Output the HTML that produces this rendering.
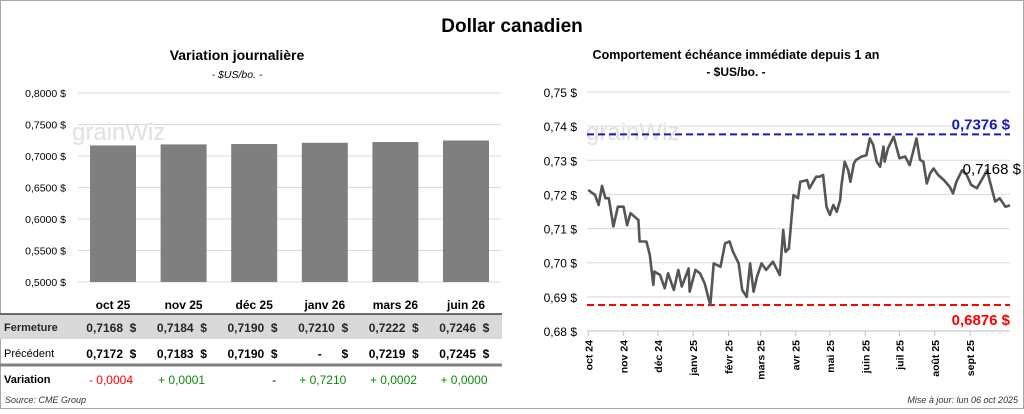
<!DOCTYPE html>
<html><head><meta charset="utf-8">
<style>
html,body{margin:0;padding:0;background:#fff;}
body{width:1024px;height:409px;overflow:hidden;font-family:"Liberation Sans",sans-serif;}
svg text{font-family:"Liberation Sans",sans-serif;}
</style></head>
<body>
<svg id="root" width="1024" height="409" viewBox="0 0 1024 409" xmlns="http://www.w3.org/2000/svg">
  <rect x="0.5" y="0.5" width="1023" height="408" fill="#fff" stroke="#a6a6a6"/>
  <text x="512" y="32" text-anchor="middle" font-size="19" font-weight="bold" fill="#000">Dollar canadien</text>
  <text x="237" y="60" text-anchor="middle" font-size="14" font-weight="bold">Variation  journalière</text>
  <text x="237" y="78" text-anchor="middle" font-size="10.5" font-style="italic">- $US/bo. -</text>
  <text x="736" y="59" text-anchor="middle" font-size="12.5" font-weight="bold">Comportement échéance immédiate depuis 1 an</text>
  <text x="736" y="76" text-anchor="middle" font-size="12" font-weight="bold">- $US/bo. -</text>
  <g id="bars"></g>
  <g id="line"></g>
  <g id="table"></g>
  <text x="5" y="403" font-size="9" font-style="italic" fill="#333">Source: CME Group</text>
  <text x="1018" y="403" text-anchor="end" font-size="9" font-style="italic" fill="#333">Mise à jour: lun 06 oct 2025</text>
</svg>
<script>
const NS="http://www.w3.org/2000/svg";
const barCategories=["oct 25","nov 25","déc 25","janv 26","mars 26","juin 26"];
const barValues=[0.7168,0.7184,0.7190,0.7210,0.7222,0.7246];
const barTicks=[0.50,0.55,0.60,0.65,0.70,0.75,0.80];
const barTickLabels=["0,5000 $","0,5500 $","0,6000 $","0,6500 $","0,7000 $","0,7500 $","0,8000 $"];
const closeLabels=["0,7168","0,7184","0,7190","0,7210","0,7222","0,7246"];
const prevLabels=["0,7172","0,7183","0,7190","-","0,7219","0,7245"];
const varLabels=["- 0,0004","+ 0,0001","-","+ 0,7210","+ 0,0002","+ 0,0000"];
const varSigns=[-1,1,0,1,1,1];

const lineTicks=[0.68,0.69,0.70,0.71,0.72,0.73,0.74,0.75];
const lineTickLabels=["0,68 $","0,69 $","0,70 $","0,71 $","0,72 $","0,73 $","0,74 $","0,75 $"];
const monthLabels=["oct 24","nov 24","déc 24","janv 25","févr 25","mars 25","avr 25","mai 25","juin 25","juil 25","août 25","sept 25"];
const monthDays=[0,31,61,92,123,151,182,212,243,273,304,335];
const seriesDays=[0,6,9,12,15,18,22,26,31,34,37,44,45,51,54,57,58,63,67,70,75,79,82,88,89,94,98,102,107,110,116,120,124,127,132,135,139,142,145,148,152,156,162,168,171,173,176,180,184,186,192,194,200,203,206,209,212,215,218,221,222,225,228,230,233,235,240,244,247,250,253,256,259,260,263,268,273,278,282,288,291,294,297,300,303,307,312,317,320,323,328,332,336,341,345,350,352,357,361,366,370];
const seriesValues=[0.7213,0.7198,0.7169,0.7225,0.7189,0.7189,0.7106,0.7164,0.7164,0.7110,0.7145,0.7125,0.7062,0.7062,0.7023,0.6935,0.6974,0.6964,0.6925,0.6969,0.6920,0.6979,0.6930,0.6983,0.6915,0.6979,0.6969,0.6940,0.6876,0.6998,0.6988,0.7057,0.7062,0.7032,0.6998,0.6920,0.6900,0.6998,0.6915,0.6959,0.6998,0.6979,0.7003,0.6964,0.7096,0.7032,0.7042,0.7198,0.7189,0.7237,0.7242,0.7218,0.7252,0.7252,0.7257,0.7164,0.7140,0.7169,0.7149,0.7184,0.7223,0.7296,0.7271,0.7237,0.7291,0.7301,0.7311,0.7315,0.7364,0.7345,0.7296,0.7281,0.7340,0.7296,0.7335,0.7369,0.7306,0.7311,0.7286,0.7364,0.7301,0.7296,0.7232,0.7262,0.7276,0.7257,0.7242,0.7223,0.7203,0.7237,0.7271,0.7257,0.7228,0.7218,0.7242,0.7271,0.7242,0.7179,0.7189,0.7164,0.7168];
const maxValue=[0.7376];const minValue=[0.6876];const lastLabel=["0,7168 $"];

function mk(tag,attrs,parent,txt){const e=document.createElementNS(NS,tag);for(const k in attrs)e.setAttribute(k,attrs[k]);if(txt!==undefined)e.textContent=txt;parent.appendChild(e);return e;}

const bg=document.getElementById('bars');
const by=v=>282-(v-0.5)*(189/0.3);
const bx=i=>113+i*70.6;
barTicks.forEach((t,i)=>{
  const g=mk('line',{x1:78,x2:501,y1:by(t),y2:by(t),stroke:'#d9d9d9','stroke-width':1},bg);
  
  const l=mk('text',{x:66,y:by(t)+4,'text-anchor':'end','font-size':10.5},bg,barTickLabels[i]);
  
});
const wm=mk('text',{x:72,y:140,'font-size':24,fill:'#e0e0e0'},bg,'grainWiz');

barValues.forEach((v,i)=>{
  const r=mk('rect',{x:bx(i)-23,y:by(v),width:46,height:by(0.5)-by(v),fill:'#7f7f7f'},bg);
  
  
});

const tg=document.getElementById('table');
const rr=mk('rect',{x:0,y:314,width:502,height:25,fill:'#d9d9d9'},tg);

const l1=mk('line',{x1:0,x2:502,y1:314,y2:314,stroke:'#404040','stroke-width':1.5},tg);

const l2=mk('line',{x1:0,x2:502,y1:365,y2:365,stroke:'#808080','stroke-width':3},tg);

[['Fermeture',331,true,11],['Précédent',357,false,11],['Variation',383,true,11]].forEach(a=>{
  const t=mk('text',{x:4,y:a[1],'font-size':a[3],'font-weight':a[2]?'bold':'normal',fill:a[0]==='Fermeture'?'#262626':'#000'},tg,a[0]);
  
});
barCategories.forEach((c,i)=>{
  const cx=bx(i);
  const h=mk('text',{x:cx,y:309,'text-anchor':'middle','font-size':12,'font-weight':'bold'},tg,c);
  
  const d1=mk('text',{x:cx+10,y:332,'text-anchor':'end','font-size':12,'font-weight':'bold',fill:'#262626'},tg,closeLabels[i]);
  
  const s1=mk('text',{x:cx+20,y:332,'text-anchor':'middle','font-size':12,'font-weight':'bold',fill:'#262626'},tg,'$');
  
  const d2=mk('text',{x:prevLabels[i]==='-'?cx-3:cx+10,y:358,'text-anchor':'end','font-size':12,'font-weight':'bold'},tg,prevLabels[i]);
  
  const s2=mk('text',{x:cx+20,y:358,'text-anchor':'middle','font-size':12,'font-weight':'bold'},tg,'$');
  
  const col=varSigns[i]<0?'#ff0000':(varSigns[i]>0?'#0a8a0a':'#000');
  const d3=mk('text',{x:varSigns[i]===0?cx+22:cx-2,y:384,'text-anchor':varSigns[i]===0?'end':'middle','font-size':12,fill:col},tg,varLabels[i]);
  
});

const lg=document.getElementById('line');
const ly=v=>92+(0.75-v)*(239/0.07);
const lx=d=>588.3+d*(421.7/370);
lineTicks.forEach((t,i)=>{
  const g=mk('line',{x1:587,x2:1010,y1:ly(t),y2:ly(t),stroke:'#d9d9d9','stroke-width':1},lg);
  
  const l=mk('text',{x:577,y:ly(t)+5,'text-anchor':'end','font-size':12},lg,lineTickLabels[i]);
  
});
const ax=mk('line',{x1:587,x2:1010,y1:331,y2:331,stroke:'#bfbfbf'},lg);

monthDays.forEach((d,i)=>{
  const x=lx(d);
  const tk=mk('line',{x1:x,x2:x,y1:331,y2:336,stroke:'#bfbfbf'},lg);
  
  const t=mk('text',{x:0,y:0,'text-anchor':'end','font-size':10.5,'font-weight':'bold',transform:`translate(${x+4},340) rotate(-90)`},lg,monthLabels[i]);
  
});
const wm2=mk('text',{x:586,y:140,'font-size':24,fill:'#e0e0e0'},lg,'grainWiz');

const mx=mk('line',{x1:587,x2:1010,y1:ly(maxValue[0]),y2:ly(maxValue[0]),stroke:'#1a1ab8','stroke-width':2,'stroke-dasharray':'7,4'},lg);

const mn=mk('line',{x1:587,x2:1010,y1:ly(minValue[0]),y2:ly(minValue[0]),stroke:'#ff0000','stroke-width':2,'stroke-dasharray':'7,4'},lg);

const mxl=mk('text',{x:1010,y:ly(maxValue[0])-5,'text-anchor':'end','font-size':15,'font-weight':'bold',fill:'#1a1ab8'},lg,maxValue[0].toFixed(4).replace('.',',')+' $');

const mnl=mk('text',{x:1010,y:ly(minValue[0])+20,'text-anchor':'end','font-size':15,'font-weight':'bold',fill:'#ff0000'},lg,minValue[0].toFixed(4).replace('.',',')+' $');

let dstr='';
seriesValues.forEach((v,i)=>{dstr+=(i?'L':'M')+lx(seriesDays[i]).toFixed(1)+','+ly(v).toFixed(1);});
const p=mk('path',{d:dstr,fill:'none',stroke:'#555','stroke-width':2.6,'stroke-linejoin':'round'},lg);

const ll=mk('text',{x:1021,y:174,'text-anchor':'end','font-size':15,fill:'#000'},lg,lastLabel[0]);

</script>
</body></html>
